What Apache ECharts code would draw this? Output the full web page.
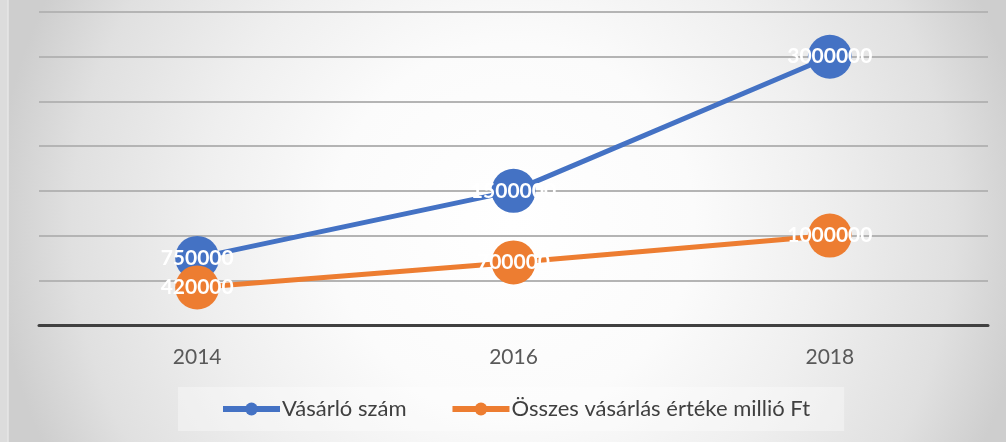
<!DOCTYPE html>
<html>
<head>
<meta charset="utf-8">
<script src="https://cdn.jsdelivr.net/npm/echarts@6/dist/echarts.min.js"></script>
<style>
  html, body { margin: 0; padding: 0; background: #dcdcdc; }
  #chart { width: 1006px; height: 442px; }
</style>
</head>
<body>
<div id="chart"></div>
<script>
// chart data
var years = ['2014', '2016', '2018'];
var vasarloSzam = [750000, 1500000, 3000000];
var osszesErtek = [420000, 700000, 1000000];
var seriesNames = ['Vásárló szám', 'Összes vásárlás értéke millió Ft'];

var font = 'Lato, "Liberation Sans", sans-serif';
var chart = echarts.init(document.getElementById('chart'));

var labelStyle = {
  show: true,
  position: 'inside',
  color: '#ffffff',
  fontFamily: font,
  fontWeight: 'bold',
  fontSize: 21
};

chart.setOption({
  animation: false,
  backgroundColor: '#dcdcdc',
  graphic: [{
    type: 'rect',
    z: -10,
    silent: true,
    shape: { x: 8, y: -10, width: 1010, height: 470 },
    style: {
      fill: new echarts.graphic.RadialGradient(0.5, 0.5, 1.1, [
        { offset: 0, color: '#ffffff' },
        { offset: 0.35, color: '#fbfbfb' },
        { offset: 0.6, color: '#efefef' },
        { offset: 0.85, color: '#e0e0e0' },
        { offset: 1, color: '#cecece' }
      ]),
      stroke: '#e6e6e6',
      lineWidth: 1.5
    }
  }],
  grid: {
    left: 39,
    right: 18,
    top: 12,
    bottom: 117
  },
  legend: {
    left: 178,
    top: 387,
    padding: [11, 34, 11, 42],
    backgroundColor: 'rgba(255,255,255,0.35)',
    itemWidth: 57,
    itemHeight: 16,
    itemGap: 43,
    lineStyle: { width: 6 },
    textStyle: {
      fontFamily: font,
      fontSize: 22,
      color: '#404040',
      padding: [0, 0, 0, -3]
    },
    data: seriesNames
  },
  xAxis: {
    type: 'category',
    data: years,
    boundaryGap: true,
    axisTick: { show: false },
    axisLine: { lineStyle: { color: '#404040', width: 3 } },
    axisLabel: {
      margin: 22,
      fontFamily: font,
      fontSize: 21,
      color: '#595959'
    }
  },
  yAxis: {
    type: 'value',
    min: 0,
    max: 3500000,
    interval: 500000,
    axisLabel: { show: false },
    axisLine: { show: false },
    axisTick: { show: false },
    splitLine: { lineStyle: { color: '#b4b4b4', width: 2 } }
  },
  series: [{
    name: seriesNames[0],
    type: 'line',
    data: vasarloSzam,
    symbol: 'circle',
    symbolSize: 44,
    color: '#4472c4',
    lineStyle: { width: 5, color: '#4472c4' },
    label: labelStyle
  }, {
    name: seriesNames[1],
    type: 'line',
    data: osszesErtek,
    symbol: 'circle',
    symbolSize: 44,
    color: '#ed7d31',
    lineStyle: { width: 5, color: '#ed7d31' },
    label: labelStyle
  }]
});
</script>
</body>
</html>
